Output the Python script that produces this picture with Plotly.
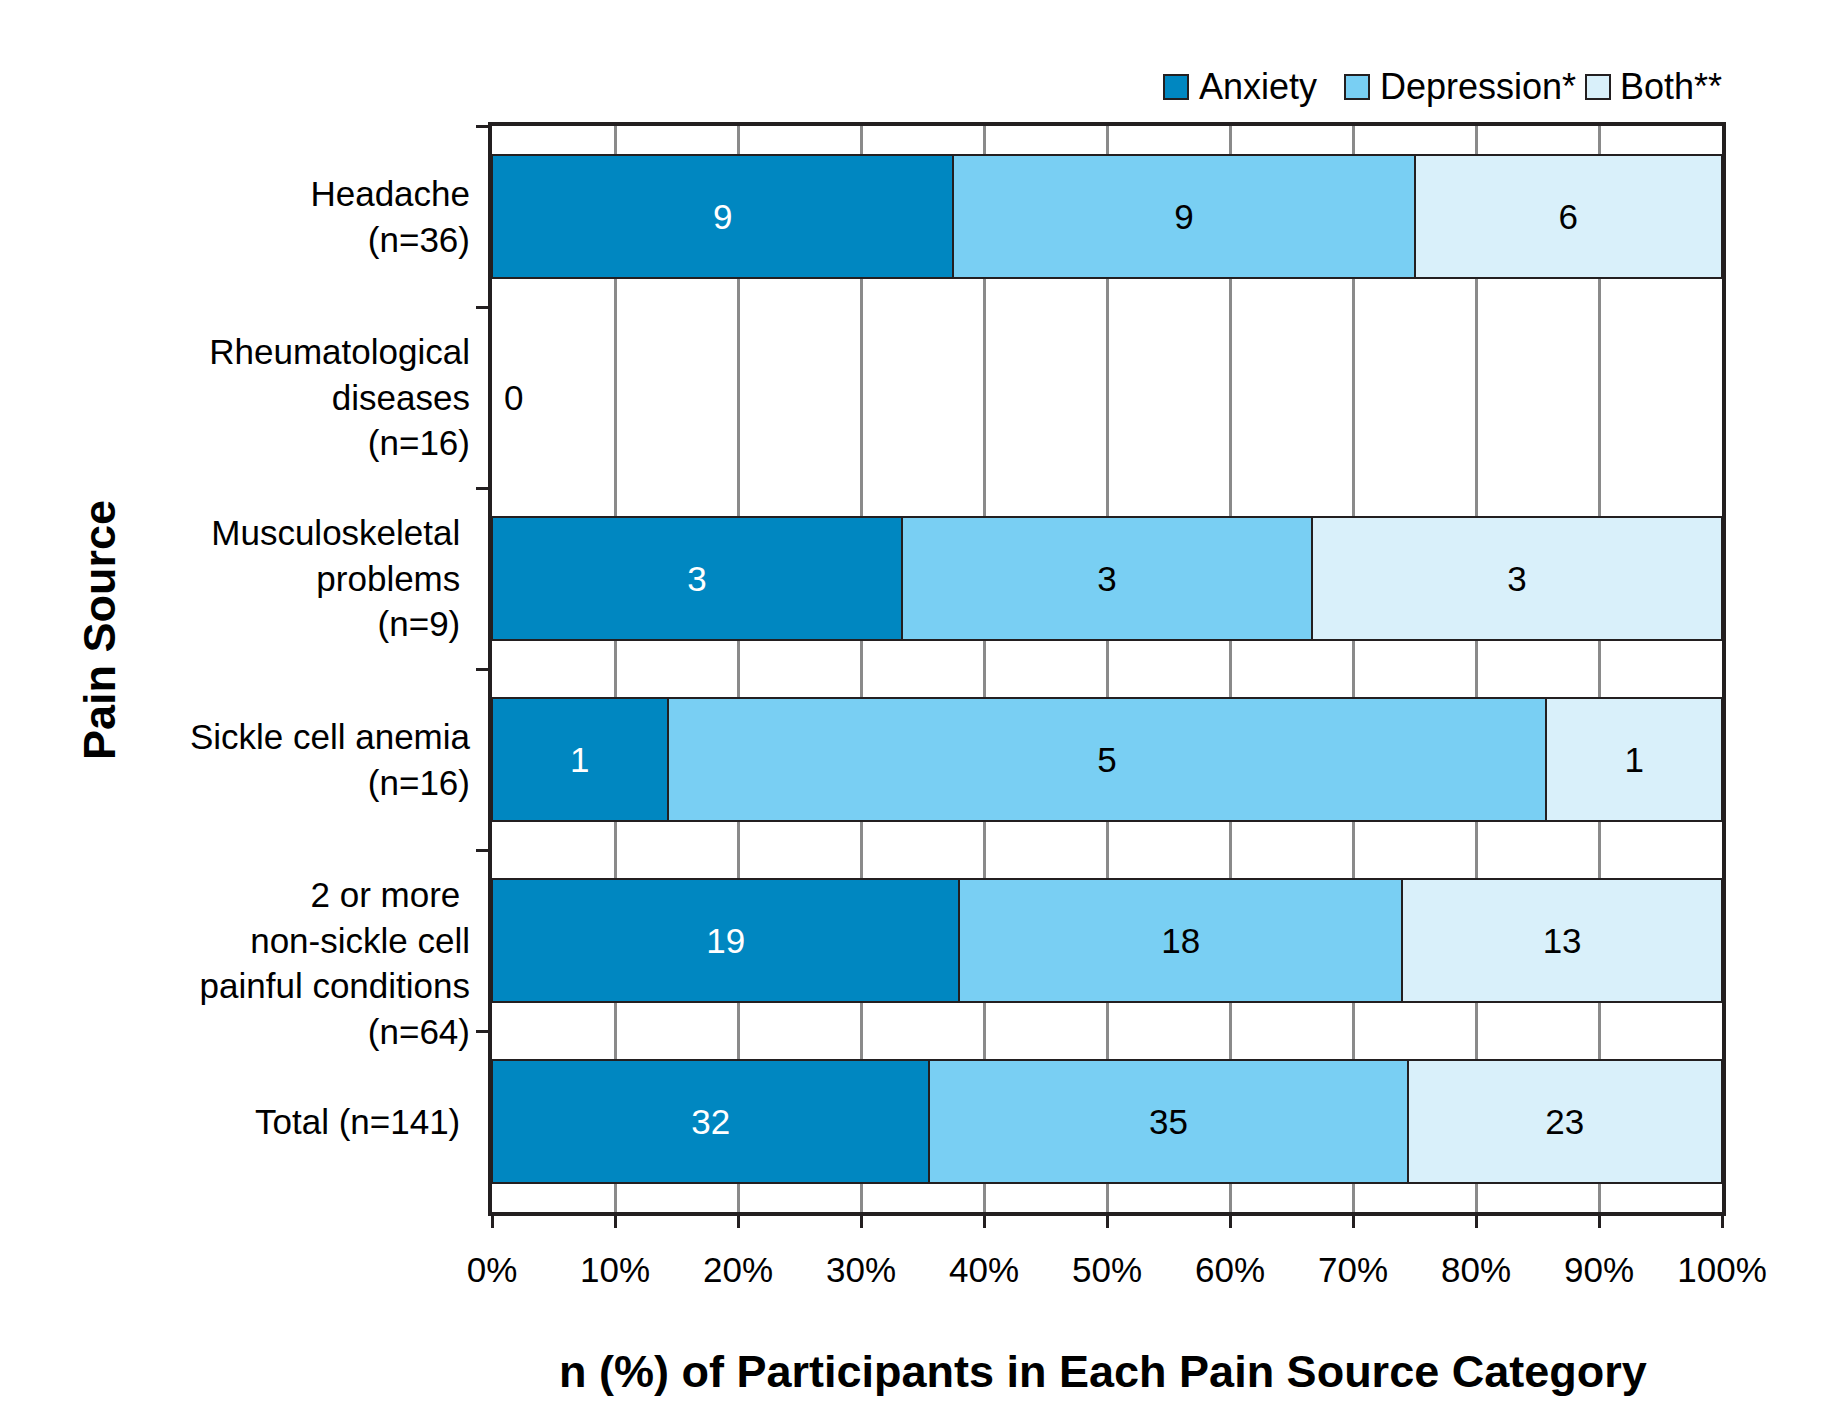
import plotly.graph_objects as go

NB = "\u00a0"

# Pain source categories (top to bottom)
categories = [
    "Headache<br>(n=36)",
    "Rheumatological<br>diseases<br>(n=16)",
    f"Musculoskeletal{NB}<br>problems{NB}<br>(n=9){NB}",
    "Sickle cell anemia<br>(n=16)",
    f"<br>2 or more{NB}<br>non-sickle cell<br>painful conditions<br>(n=64)",
    f"Total (n=141){NB}",
]

# Number of participants with each condition per category
anxiety = [9, 0, 3, 1, 19, 32]
depression = [9, 0, 3, 5, 18, 35]
both = [6, 0, 3, 1, 13, 23]

x_tickvals = [0, 10, 20, 30, 40, 50, 60, 70, 80, 90, 100]
x_ticktext = ["0%", "10%", "20%", "30%", "40%", "50%", "60%", "70%", "80%", "90%", "100%"]

FONT = "Liberation Sans, Arial, sans-serif"
DARK = "#231f20"

W, H = 1847, 1406
ML, MR, MT, MB = 492, 125, 126, 194
PW, PH = W - ML - MR, H - MT - MB


def px_x(px):
    return (px - ML) / PW


def px_y(py):
    return (H - MB - py) / PH


series = [
    ("Anxiety", anxiety, "#0087c1", "white"),
    ("Depression*", depression, "#79cff3", "black"),
    ("Both**", both, "#d9f0fa", "black"),
]

fig = go.Figure()
for name, vals, color, txtcolor in series:
    fig.add_trace(go.Bar(
        name=name,
        y=categories,
        x=vals,
        orientation="h",
        text=[str(v) for v in vals],
        texttemplate="%{text}",
        textposition="inside",
        insidetextanchor="middle",
        textangle=0,
        textfont=dict(family=FONT, size=35, color=txtcolor),
        marker=dict(color=color, line=dict(color=DARK, width=2)),
        showlegend=False,
        hoverinfo="skip",
    ))

annotations = []
shapes = []

# Categories with no participants get a "0" next to the axis
for cat, a, d, b in zip(categories, anxiety, depression, both):
    total = a + d + b
    if total == 0:
        annotations.append(dict(
            x=0, y=cat, xref="x", yref="y", text=str(total),
            showarrow=False, xanchor="left", xshift=10,
            font=dict(family=FONT, size=35, color="black"),
        ))

# Legend row: boxed swatch followed by its label
legend_swatch_left = [1164, 1345, 1586]
legend_text_left = [1197, 1378, 1618]
for (name, _, color, _), sx, tx in zip(series, legend_swatch_left, legend_text_left):
    shapes.append(dict(
        type="rect", xref="paper", yref="paper",
        x0=px_x(sx), x1=px_x(sx + 24), y0=px_y(99), y1=px_y(75),
        fillcolor=color, line=dict(color=DARK, width=2), layer="above",
    ))
    annotations.append(dict(
        x=px_x(tx), y=px_y(87), xref="paper", yref="paper",
        text=name, showarrow=False, xanchor="left", yanchor="middle",
        font=dict(family=FONT, size=36, color="black"),
    ))

annotations.append(dict(
    x=px_x(1103), y=px_y(1371), xref="paper", yref="paper",
    text="<b>n (%) of Participants in Each Pain Source Category</b>",
    showarrow=False, xanchor="center", yanchor="middle",
    font=dict(family=FONT, size=45, color="black"),
))
annotations.append(dict(
    x=px_x(99), y=px_y(630), xref="paper", yref="paper",
    text="<b>Pain Source</b>", textangle=-90,
    showarrow=False, xanchor="center", yanchor="middle",
    font=dict(family=FONT, size=45, color="black"),
))

fig.update_layout(
    width=W,
    height=H,
    barmode="stack",
    barnorm="percent",
    bargap=0.32,
    paper_bgcolor="white",
    plot_bgcolor="white",
    margin=dict(l=ML, r=MR, t=MT, b=MB),
    font=dict(family=FONT, size=35, color="black"),
    showlegend=False,
    annotations=annotations,
    shapes=shapes,
    xaxis=dict(
        range=[0, 100],
        tickmode="array",
        tickvals=x_tickvals,
        ticktext=x_ticktext,
        showgrid=True,
        gridcolor="#8a8a8a",
        gridwidth=3,
        zeroline=False,
        showline=True,
        linecolor=DARK,
        linewidth=4,
        mirror=True,
        ticks="outside",
        ticklen=12,
        tickwidth=3,
        tickcolor=DARK,
        ticklabelstandoff=12,
        tickfont=dict(family=FONT, size=35, color="black"),
    ),
    yaxis=dict(
        categoryorder="array",
        categoryarray=categories,
        autorange="reversed",
        showgrid=False,
        showline=True,
        linecolor=DARK,
        linewidth=4,
        mirror=True,
        ticks="outside",
        tickson="boundaries",
        ticklen=12,
        tickwidth=3,
        tickcolor=DARK,
        ticklabelstandoff=11,
        tickfont=dict(family=FONT, size=35, color="black"),
    ),
)

fig.write_html("out.html")
